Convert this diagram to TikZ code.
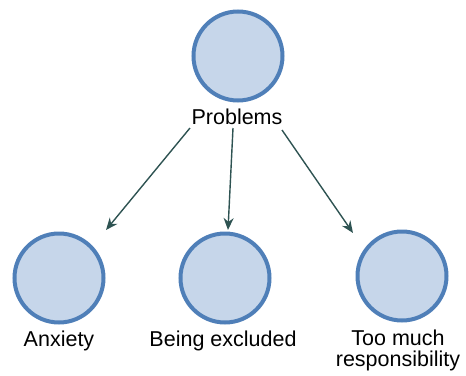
\documentclass[tikz,border=0pt]{standalone}
\usepackage{fontspec}
\setmainfont{Liberation Sans}
\usetikzlibrary{arrows.meta}
\definecolor{circfill}{HTML}{C6D6EA}
\definecolor{circline}{HTML}{4F7FB8}
\definecolor{arrcol}{HTML}{2E5352}
\begin{document}
\begin{tikzpicture}[x=1pt,y=-1pt,
  topic/.style={circle,draw=circline,fill=circfill,line width=4pt,minimum size=89pt,inner sep=0pt},
  lbl/.style={anchor=base,inner sep=0pt,font=\fontsize{21.5}{21}\selectfont,align=center},
  link/.style={draw=arrcol,line width=1.4pt,-{Stealth[length=12pt,width=10pt]}}]
\useasboundingbox (0,0) rectangle (466,375);
\node[topic] (pc) at (238,56) {};
\node[lbl] (pl) at (237,124) {Problems};
\node[topic] (ac) at (59,278) {};
\node[lbl] (al) at (59,346) {Anxiety};
\node[topic] (bc) at (225,278) {};
\node[lbl] (bl) at (223,346) {Being excluded};
\node[topic] (tc) at (402,276) {};
\node[lbl,anchor=north] (tl) at (398,330) {Too much\\responsibility};
\coordinate (s1) at (190,128);
\coordinate (e1) at (106,230);
\coordinate (s2) at (233,128);
\coordinate (e2) at (228,230);
\coordinate (s3) at (282,130);
\coordinate (e3) at (353,233);
\draw[link] (s1) -- (e1);
\draw[link] (s2) -- (e2);
\draw[link] (s3) -- (e3);
\end{tikzpicture}
\end{document}
